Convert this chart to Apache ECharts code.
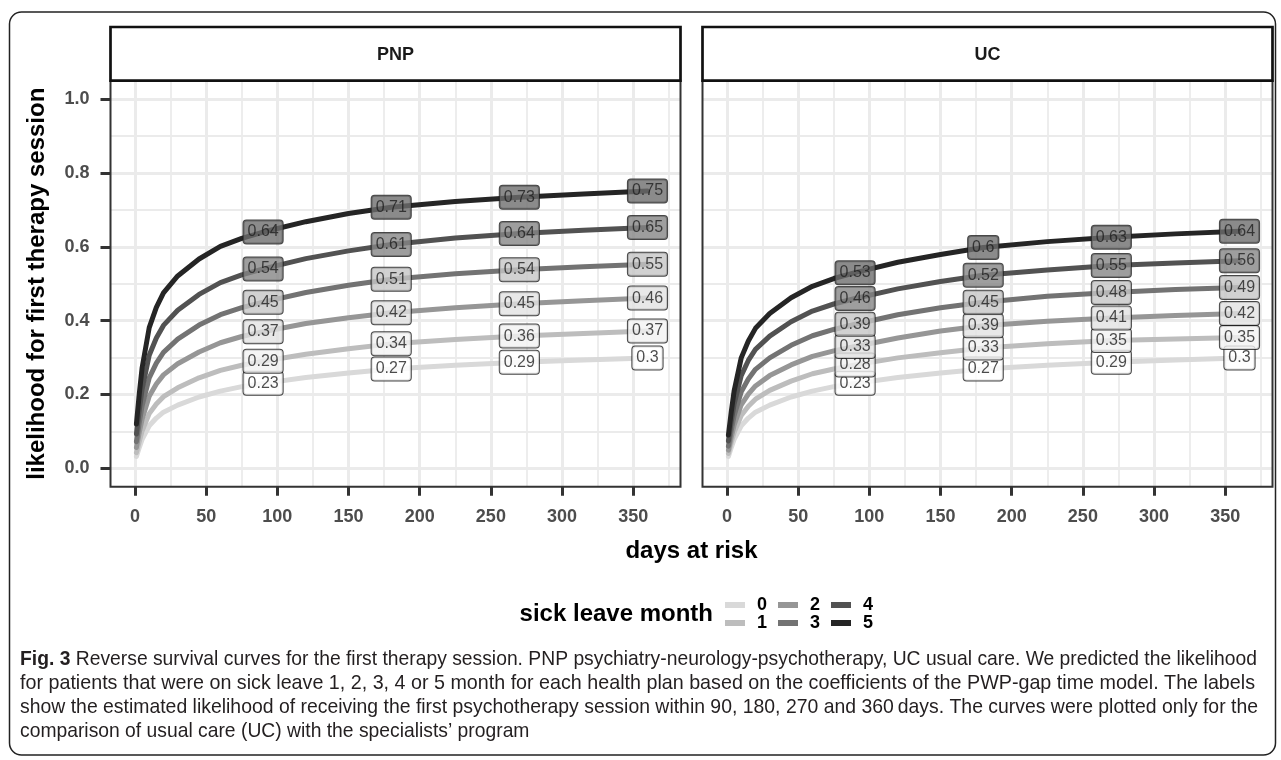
<!DOCTYPE html>
<html><head><meta charset="utf-8">
<script src="https://cdn.jsdelivr.net/npm/echarts@6/dist/echarts.min.js"></script>
<style>html,body{margin:0;padding:0;background:#fff}#c{width:1281px;height:760px}</style>
</head><body><div id="c"></div>
<script>
// ---------- data ----------
const days = [1,3,5,10,15,20,30,45,60,75,90,120,150,180,225,270,315,360];
const labelDays = [90,180,270,360];
const groups = ['0','1','2','3','4','5'];
const panels = ['PNP','UC'];

const pnp0 = [0.032,0.056,0.078,0.115,0.136,0.152,0.171,0.193,0.209,0.221,0.230,0.246,0.258,0.269,0.279,0.287,0.293,0.299];
const pnp1 = [0.042,0.072,0.101,0.148,0.174,0.194,0.218,0.245,0.265,0.279,0.290,0.309,0.324,0.337,0.349,0.358,0.365,0.372];
const pnp2 = [0.056,0.097,0.133,0.195,0.228,0.253,0.283,0.315,0.340,0.357,0.370,0.392,0.408,0.421,0.435,0.446,0.454,0.461];
const pnp3 = [0.072,0.123,0.169,0.245,0.285,0.314,0.350,0.388,0.416,0.435,0.450,0.476,0.496,0.512,0.527,0.538,0.546,0.553];
const pnp4 = [0.093,0.157,0.214,0.306,0.353,0.387,0.428,0.471,0.503,0.524,0.540,0.568,0.589,0.606,0.624,0.636,0.645,0.652];
const pnp5 = [0.120,0.201,0.272,0.381,0.436,0.475,0.521,0.567,0.601,0.623,0.640,0.668,0.690,0.707,0.723,0.734,0.743,0.751];

const uc0 = [0.032,0.056,0.078,0.115,0.136,0.152,0.171,0.193,0.209,0.221,0.230,0.246,0.258,0.269,0.279,0.287,0.293,0.299];
const uc1 = [0.040,0.070,0.097,0.143,0.168,0.187,0.211,0.236,0.256,0.269,0.280,0.299,0.313,0.326,0.337,0.346,0.350,0.354];
const uc2 = [0.049,0.084,0.117,0.172,0.201,0.223,0.251,0.280,0.303,0.318,0.330,0.353,0.372,0.386,0.398,0.407,0.414,0.419];
const uc3 = [0.060,0.103,0.142,0.207,0.242,0.268,0.299,0.333,0.359,0.376,0.390,0.416,0.435,0.450,0.466,0.476,0.484,0.490];
const uc4 = [0.074,0.127,0.174,0.251,0.292,0.322,0.358,0.397,0.426,0.445,0.460,0.486,0.506,0.523,0.537,0.549,0.556,0.562];
const uc5 = [0.090,0.153,0.209,0.299,0.345,0.379,0.419,0.462,0.493,0.514,0.530,0.558,0.579,0.598,0.614,0.626,0.635,0.642];

const xTicks = [0,50,100,150,200,250,300,350];
const yTicks = [0,0.2,0.4,0.6,0.8,1.0];

const panelValues = { PNP: [pnp0,pnp1,pnp2,pnp3,pnp4,pnp5], UC: [uc0,uc1,uc2,uc3,uc4,uc5] };

// ---------- styles ----------
const FONT = '"Liberation Sans", Arial, Helvetica, sans-serif';
const lineColors = ['#d9d9d9','#bdbdbd','#969696','#737373','#525252','#252525'];
const labelFills = ['#ffffff','#f2f2f2','#e2e2e2','#c6c6c6','#868686','#6e6e6e'];
const boxes = [
  {left:110.5, top:80.7, width:570, height:406},
  {left:702.5, top:80.7, width:570, height:406}
];
const stripTop = 27;

function fmt(v){ return String(Number(v.toFixed(2))); }

const chart = echarts.init(document.getElementById('c'), null, {renderer:'canvas'});

const grids = boxes.map(b => ({left:b.left, top:b.top, width:b.width, height:b.height,
  containLabel:false, outerBoundsMode:'none', show:false}));

const xAxes = boxes.map((b,i) => ({
  type:'value', gridIndex:i, min:-17.2, max:383.2, splitNumber:8, position:'bottom',
  axisLine:{show:false, onZero:false},
  axisTick:{show:true, customValues:xTicks, length:9, lineStyle:{color:'#333', width:3}},
  axisLabel:{show:true, customValues:xTicks, margin:21, fontSize:18, fontWeight:'bold',
    color:'#4d4d4d', fontFamily:FONT},
  splitLine:{show:true, lineStyle:{color:'#ebebeb', width:3}},
  minorTick:{show:false, splitNumber:2},
  minorSplitLine:{show:true, lineStyle:{color:'#ebebeb', width:1.8}}
}));

const yAxes = boxes.map((b,i) => ({
  type:'value', gridIndex:i, min:-0.05, max:1.05, splitNumber:5, position:'left',
  axisLine:{show:false, onZero:false},
  axisTick:{show:i===0, customValues:yTicks, length:10, lineStyle:{color:'#333', width:3}},
  axisLabel:{show:i===0, customValues:yTicks, margin:21, fontSize:18, fontWeight:'bold',
    color:'#4d4d4d', fontFamily:FONT, formatter:v => v.toFixed(1)},
  splitLine:{show:true, lineStyle:{color:'#ebebeb', width:3}},
  minorTick:{show:false, splitNumber:2},
  minorSplitLine:{show:true, lineStyle:{color:'#ebebeb', width:1.8}}
}));

const series = [];
panels.forEach((p,i) => {
  panelValues[p].forEach((vals,k) => {
    series.push({
      type:'line', name:groups[k], xAxisIndex:i, yAxisIndex:i,
      data: days.map((d,j) => [d, vals[j]]),
      showSymbol:false, symbol:'none', smooth:false,
      lineStyle:{color:lineColors[k], width:5, join:'round', cap:'round'}, itemStyle:{color:lineColors[k]},
      z:2, silent:true
    });
  });
  panelValues[p].forEach((vals,k) => {
    series.push({
      type:'scatter', name:p+'-label-'+k, xAxisIndex:i, yAxisIndex:i,
      data: labelDays.map(d => [d, vals[days.indexOf(d)]]),
      symbolSize:1, itemStyle:{color:'rgba(0,0,0,0)'}, z:5, silent:true,
      label:{show:true, position:'inside', formatter:pp => fmt(pp.value[1]),
        fontSize:16, fontFamily:FONT, color:'#1e1e1e',
        backgroundColor:labelFills[k], borderColor:'#1a1a1a', borderWidth:1,
        borderRadius:3, padding:[4,4,3,4]}
    });
  });
});

const legendCommon = {
  orient:'horizontal', left:725, itemWidth:20, itemHeight:6, itemGap:11, icon:'rect',
  padding:0, selectedMode:false,
  textStyle:{fontSize:18, fontWeight:'bold', color:'#000', fontFamily:FONT,
    padding:[0,0,0,7], lineHeight:18}
};

// caption fitting (condensed look by horizontal scaling)
const CAP = 21;
const ctx = document.createElement('canvas').getContext('2d');
function tw(txt, weight){ ctx.font = weight + ' ' + CAP + 'px "Liberation Sans"'; return ctx.measureText(txt).width; }
const capLines = [
  [' Reverse survival curves for the first therapy session. PNP psychiatry-neurology-psychotherapy, UC usual care. We predicted the likelihood', 1257],
  ['for patients that were on sick leave 1, 2, 3, 4 or 5 month for each health plan based on the coefficients of the PWP-gap time model. The labels', 1255],
  ['show the estimated likelihood of receiving the first psychotherapy session within 90, 180, 270 and 360\u2009days. The curves were plotted only for the', 1258],
  ['comparison of usual care (UC) with the specialists\u2019 program', null]
];
const capX = 20, capY = [659, 683, 707, 731];
const w1 = tw('Fig. 3','bold') + tw(capLines[0][0],'normal');
const s1 = (capLines[0][1]-capX)/w1;
const capGraphics = capLines.map((ln,idx) => {
  let s = s1, text;
  if (idx === 0) { text = '{b|Fig. 3}{r|' + ln[0] + '}'; }
  else {
    text = '{r|' + ln[0] + '}';
    if (ln[1]) s = (ln[1]-capX)/tw(ln[0],'normal');
  }
  return {type:'text', x:capX, y:capY[idx], scaleX:s, z:50,
    style:{text:text, verticalAlign:'middle', align:'left',
      rich:{ b:{fontWeight:'bold', fontSize:CAP, fontFamily:'"Liberation Sans"', fill:'#231f20'},
             r:{fontWeight:'normal', fontSize:CAP, fontFamily:'"Liberation Sans"', fill:'#231f20'} }}};
});

const graphics = [
  {type:'rect', z:40, shape:{x:9.5, y:12, width:1266, height:743, r:12},
    style:{fill:'none', stroke:'#222', lineWidth:1.5}},
  ...boxes.map(b => ({type:'rect', z:60, shape:{x:b.left, y:b.top, width:b.width, height:b.height},
    style:{fill:'none', stroke:'#333', lineWidth:2}})),
  ...boxes.map(b => ({type:'rect', z:61, shape:{x:b.left, y:stripTop, width:b.width, height:b.top-stripTop},
    style:{fill:'#fff', stroke:'#111', lineWidth:2.7}})),
  ...boxes.map((b,i) => ({type:'text', z:62, x:b.left+b.width/2, y:(stripTop+b.top)/2+1,
    style:{text:panels[i], align:'center', verticalAlign:'middle', fontSize:18, fontWeight:'bold',
      fontFamily:FONT, fill:'#1a1a1a'}})),
  {type:'text', z:62, x:37.5, y:boxes[0].top+boxes[0].height/2, rotation:Math.PI/2,
    style:{text:'likelihood for first therapy session', align:'center', verticalAlign:'middle',
      fontSize:24, fontWeight:'bold', fontFamily:FONT, fill:'#000'}},
  {type:'text', z:62, x:(boxes[0].left+boxes[1].left+boxes[1].width)/2, y:551,
    style:{text:'days at risk', align:'center', verticalAlign:'middle',
      fontSize:24, fontWeight:'bold', fontFamily:FONT, fill:'#000'}},
  {type:'text', z:62, x:713, y:614,
    style:{text:'sick leave month', align:'right', verticalAlign:'middle',
      fontSize:24, fontWeight:'bold', fontFamily:FONT, fill:'#000'}},
  ...capGraphics
];

chart.setOption({
  animation:false,
  backgroundColor:'#fff',
  textStyle:{fontFamily:FONT},
  grid:grids, xAxis:xAxes, yAxis:yAxes, series:series,
  legend:[
    Object.assign({}, legendCommon, {top:596, data:['0','2','4']}),
    Object.assign({}, legendCommon, {top:614, data:['1','3','5']})
  ],
  graphic:graphics
});
</script></body></html>
